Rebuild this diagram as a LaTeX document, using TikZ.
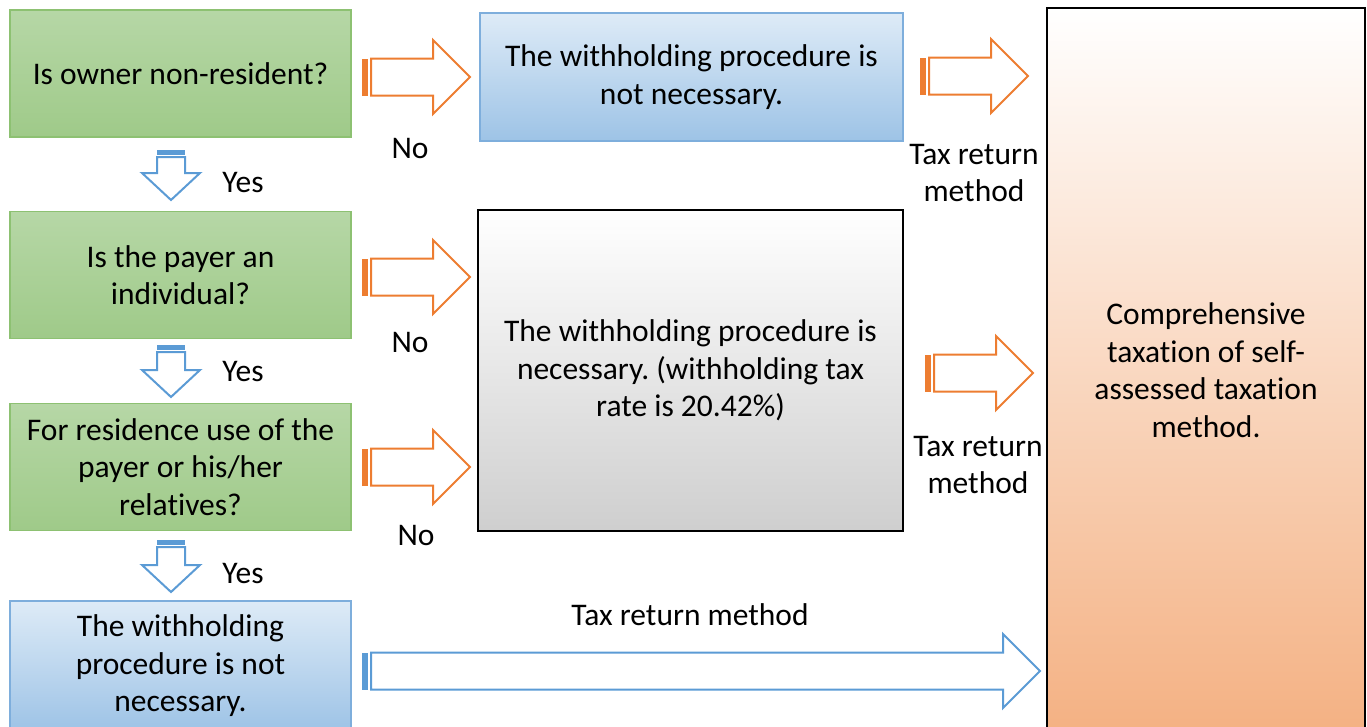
\documentclass[tikz,border=0pt]{standalone}
\usepackage{fontspec}
\setmainfont{Carlito}[Ligatures=NoCommon]
\usetikzlibrary{positioning}
\frenchspacing

\definecolor{qTop}{HTML}{B6D7A6}
\definecolor{qBot}{HTML}{9FCA89}
\definecolor{qLine}{HTML}{8DC172}
\definecolor{nTop}{HTML}{DEEBF7}
\definecolor{nBot}{HTML}{9DC3E6}
\definecolor{nLine}{HTML}{7EAEDC}
\definecolor{cBot}{HTML}{F4B183}
\definecolor{arrOrange}{HTML}{ED7D31}
\definecolor{arrBlue}{HTML}{5B9BD5}

% striped block arrow to the right: {left x}{tip x}{mid y}{colour}
\newcommand\stripedright[4]{%
  \fill[#4] (#1,#3-18.5) rectangle (#1+6,#3+18.5);
  \draw[#4, fill=white, line width=2pt]
    (#1+9,#3-18.5) -- (#2-37,#3-18.5) -- (#2-37,#3-37) -- (#2,#3)
    -- (#2-37,#3+37) -- (#2-37,#3+18.5) -- (#1+9,#3+18.5) -- cycle;}
% striped block arrow downwards: {mid x}{top y}{tip y}{colour}
\newcommand\stripeddown[4]{%
  \fill[#4] (#1-14,#2) rectangle (#1+14,#2+5);
  \draw[#4, fill=white, line width=2pt]
    (#1-14,#2+7) -- (#1+14,#2+7) -- (#1+14,#3-27) -- (#1+29,#3-27)
    -- (#1,#3) -- (#1-29,#3-27) -- (#1-14,#3-27) -- cycle;}

\begin{document}
\begin{tikzpicture}[x=1pt, y=-1pt,
    every node/.style={font=\fontsize{31.5}{37.5}\selectfont},
    qbox/.style={draw=qLine, line width=1.5pt, top color=qTop, bottom color=qBot,
      minimum width=341pt, minimum height=127pt, align=center, inner sep=0pt},
    nbox/.style={draw=nLine, line width=1.5pt, top color=nTop, bottom color=nBot,
      align=center, inner sep=0pt},
    gbox/.style={draw=black, line width=2pt, top color=white, bottom color=black!19,
      align=center, inner sep=0pt},
    cbox/.style={draw=black, line width=2pt, top color=white, bottom color=cBot,
      align=center, inner sep=0pt}]
  \useasboundingbox (0,0) rectangle (1367,726);
  \clip (0,0) rectangle (1367,726);

  % questions on the left
  \node[qbox] (owner) at (180.5,73.5) {Is owner non-resident?};
  \node[qbox] (payer) at (180.5,275) {Is the payer an\\individual?};
  \node[qbox] (resid) at (180.5,467) {For residence use of the\\payer or his/her\\relatives?};
  \node[nbox, minimum width=341pt, minimum height=130pt] (notnecB) at (180.5,666)
    {The withholding\\procedure is not\\necessary.};

  % results
  \node[nbox, minimum width=423pt, minimum height=128pt] (notnecA) at (691.5,77)
    {The withholding procedure is\\not necessary.};
  \node[gbox, minimum width=425pt, minimum height=321pt] (nec) at (690.5,370.5)
    {The withholding procedure is\\necessary. (withholding tax\\rate is 20.42\%)};
  \node[cbox, minimum width=318pt, minimum height=724pt] (comp) at (1206,370)
    {Comprehensive\\taxation of self-\\assessed taxation\\method.};

  % block arrows
  \stripedright{362}{470}{77}{arrOrange}
  \stripedright{362}{470}{277}{arrOrange}
  \stripedright{362}{470}{467}{arrOrange}
  \stripedright{920}{1028}{76}{arrOrange}
  \stripedright{925}{1033}{373}{arrOrange}
  \stripedright{362}{1040}{671}{arrBlue}
  \stripeddown{171}{150}{200}{arrBlue}
  \stripeddown{171}{345}{397}{arrBlue}
  \stripeddown{171}{540}{592}{arrBlue}

  % labels
  \node (no1) at (410,148) {No};
  \node (no2) at (410,342) {No};
  \node (no3) at (416,535) {No};
  \node (yes1) at (243,183) {Yes};
  \node (yes2) at (243,372) {Yes};
  \node (yes3) at (243,573) {Yes};
  \node[align=center] (tax1) at (974,173) {Tax return\\method};
  \node[align=center] (tax2) at (978,465) {Tax return\\method};
  \node (tax3) at (690,615) {Tax return method};
\end{tikzpicture}
\end{document}
